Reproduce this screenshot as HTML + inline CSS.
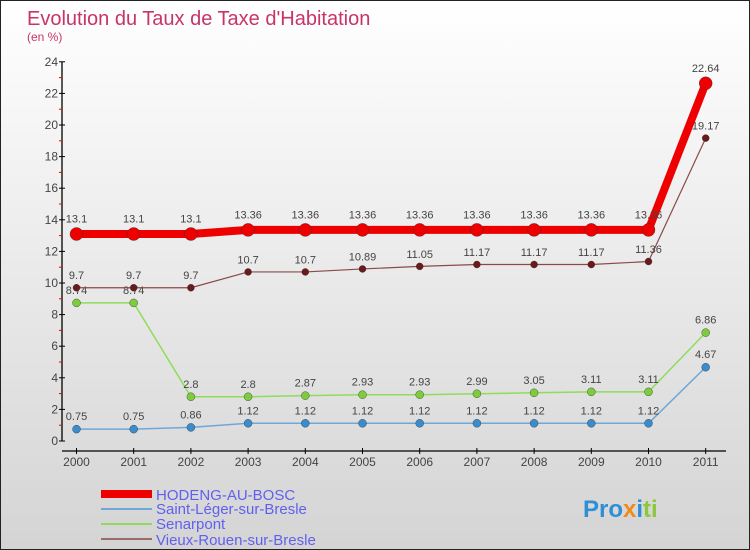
<!DOCTYPE html>
<html><head><meta charset="utf-8">
<style>
body{margin:0}
#wrap{position:relative;width:750px;height:550px;box-sizing:border-box;border:1px solid #222;background:linear-gradient(#ffffff,#d4d4d4);font-family:"Liberation Sans",sans-serif;overflow:hidden}
svg text{font-family:"Liberation Sans",sans-serif}
</style></head><body>
<div id="wrap">
<svg id="c" width="750" height="550">
<text x="26" y="24" font-size="20" fill="#c8346a">Evolution du Taux de Taxe d'Habitation</text>
<text x="26" y="40" font-size="12" fill="#c8346a">(en %)</text>
<g id="grid"></g>
<g id="series"></g>
<g id="legend">
<rect x="100" y="489" width="51" height="8" fill="#ee0000"/>
<text x="155" y="499" font-size="15" fill="#6060f0">HODENG-AU-BOSC</text>
<rect x="100" y="507" width="51" height="2" fill="#6fa8d6"/>
<text x="155" y="513" font-size="15" fill="#6060f0">Saint-Léger-sur-Bresle</text>
<rect x="100" y="522" width="51" height="2" fill="#8fdc5a"/>
<text x="155" y="528" font-size="15" fill="#6060f0">Senarpont</text>
<rect x="100" y="537" width="51" height="2" fill="#9b6b6b"/>
<text x="155" y="544" font-size="15" fill="#6060f0">Vieux-Rouen-sur-Bresle</text>
</g>
<text x="582" y="516" font-size="24" font-weight="bold"><tspan fill="#2d8fd6">Pro</tspan><tspan fill="#f08a1c">x</tspan><tspan fill="#2d8fd6">i</tspan><tspan fill="#8cc83c">ti</tspan></text>
</svg>
</div>
<script>
const years=["2000","2001","2002","2003","2004","2005","2006","2007","2008","2009","2010","2011"];
const hodeng=[13.1,13.1,13.1,13.36,13.36,13.36,13.36,13.36,13.36,13.36,13.36,22.64];
const saintLeger=[0.75,0.75,0.86,1.12,1.12,1.12,1.12,1.12,1.12,1.12,1.12,4.67];
const senarpont=[8.74,8.74,2.8,2.8,2.87,2.93,2.93,2.99,3.05,3.11,3.11,6.86];
const vieuxRouen=[9.7,9.7,9.7,10.7,10.7,10.89,11.05,11.17,11.17,11.17,11.36,19.17];
const yTicks=[0,2,4,6,8,10,12,14,16,18,20,22,24];
const NS="http://www.w3.org/2000/svg";
function X(i){return 75.5+i*57.2;}
function Y(v){return 440-v*15.8;}
function mk(tag,attrs,parent){const e=document.createElementNS(NS,tag);for(const k in attrs)e.setAttribute(k,attrs[k]);parent.appendChild(e);return e;}
const g=document.getElementById('grid');
let ax=mk('line',{x1:61,y1:Y(24),x2:61,y2:Y(0),stroke:'#000','stroke-width':1.3},g);


let xa=mk('line',{x1:61,y1:450,x2:725,y2:450,stroke:'#000','stroke-width':1.3},g);


yTicks.forEach(v=>{
  mk('line',{x1:58,y1:Y(v),x2:64,y2:Y(v),stroke:'#000'},g);
  if(v<24) mk('line',{x1:58,y1:Y(v+1),x2:61,y2:Y(v+1),stroke:'#e00'},g);
  const t=mk('text',{x:57,y:Y(v)+4,'font-size':12,fill:'#444','text-anchor':'end'},g);
  t.textContent=v;
  
  
});
years.forEach((y,i)=>{
  mk('line',{x1:X(i),y1:447,x2:X(i),y2:453,stroke:'#000'},g);
  const t=mk('text',{x:X(i),y:465,'font-size':12,fill:'#444','text-anchor':'middle'},g);
  t.textContent=y;
  
  
});
const s=document.getElementById('series');
function draw(data,color,w,r,dot,name){
  const grp=mk('g',{},s);
  
  
  const p=mk('polyline',{points:data.map((v,i)=>X(i)+','+Y(v)).join(' '),fill:'none',stroke:color,'stroke-width':w,'stroke-linejoin':'round'},grp);
  
  
  data.forEach((v,i)=>{
    const c=mk('circle',{cx:X(i),cy:Y(v),r:r,fill:dot,stroke:'#333','stroke-width':0.4},grp);
    
    
    const t=mk('text',{x:X(i),y:Y(v)-(r+5),'font-size':11,fill:'#444','text-anchor':'middle'},grp);
    t.textContent=String(v);
    
    
  });
}
draw(saintLeger,'#6fa8d6',1.5,4,'#3a8ccc','saint-leger');
draw(senarpont,'#8fdc5a',1.5,4,'#7ccc3c','senarpont');
draw(vieuxRouen,'#8a4a4a',1.2,3.5,'#6a1a1a','vieux-rouen');
draw(hodeng,'#ee0000',8,6.5,'#ee0000','hodeng');
</script>
</body></html>
